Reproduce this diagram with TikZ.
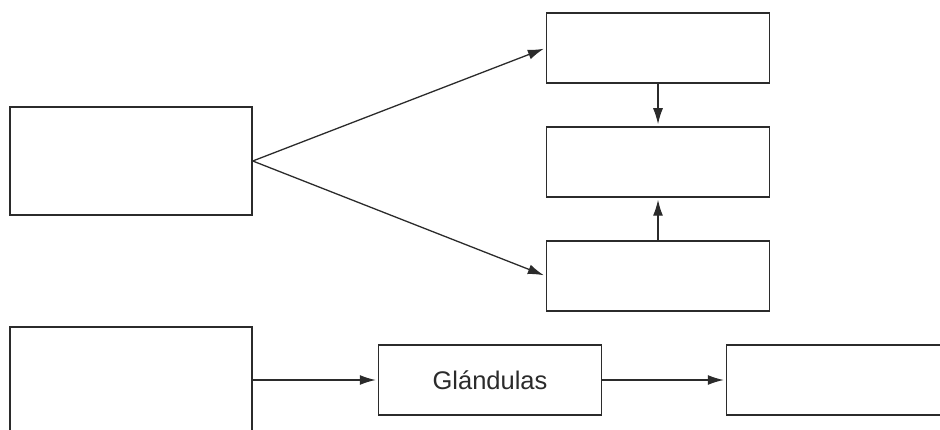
\documentclass[tikz,border=0pt]{standalone}
\usepackage{fontspec}
\setmainfont{Liberation Sans}
\usetikzlibrary{arrows.meta}
\definecolor{ink}{HTML}{2B2B2B}
\begin{document}
\begin{tikzpicture}[x=1pt,y=-1pt,
  box/.style={draw=ink,line width=1.5pt,fill=white,inner sep=0pt},
  link/.style={draw=ink,line width=1.3pt,-{Latex[length=16pt,width=10pt]},shorten >=2pt}]
  \useasboundingbox (0,0) rectangle (940,430);
  % left source box and the three stacked boxes on the right
  \node[box,minimum width=242pt,minimum height=108pt] (a) at (131,161) {};
  \node[box,minimum width=223pt,minimum height=70pt] (b) at (658,48) {};
  \node[box,minimum width=223pt,minimum height=70pt] (c) at (658,162) {};
  \node[box,minimum width=223pt,minimum height=70pt] (d) at (658,276) {};
  % bottom chain
  \node[box,minimum width=242pt,minimum height=108pt] (e) at (131,381) {};
  \node[box,minimum width=223pt,minimum height=70pt,font=\fontsize{25.5}{28}\selectfont,text=ink] (f) at (490,380) {Glándulas};
  \node[box,minimum width=223pt,minimum height=70pt] (g) at (838,380) {};
  % connectors
  \draw[link] (a.east) -- (b.west);
  \draw[link] (a.east) -- (d.west);
  \draw[link] (b.south) -- (c.north);
  \draw[link] (d.north) -- (c.south);
  \draw[link] (e.east |- f.west) -- (f.west);
  \draw[link] (f.east) -- (g.west);
\end{tikzpicture}
\end{document}
